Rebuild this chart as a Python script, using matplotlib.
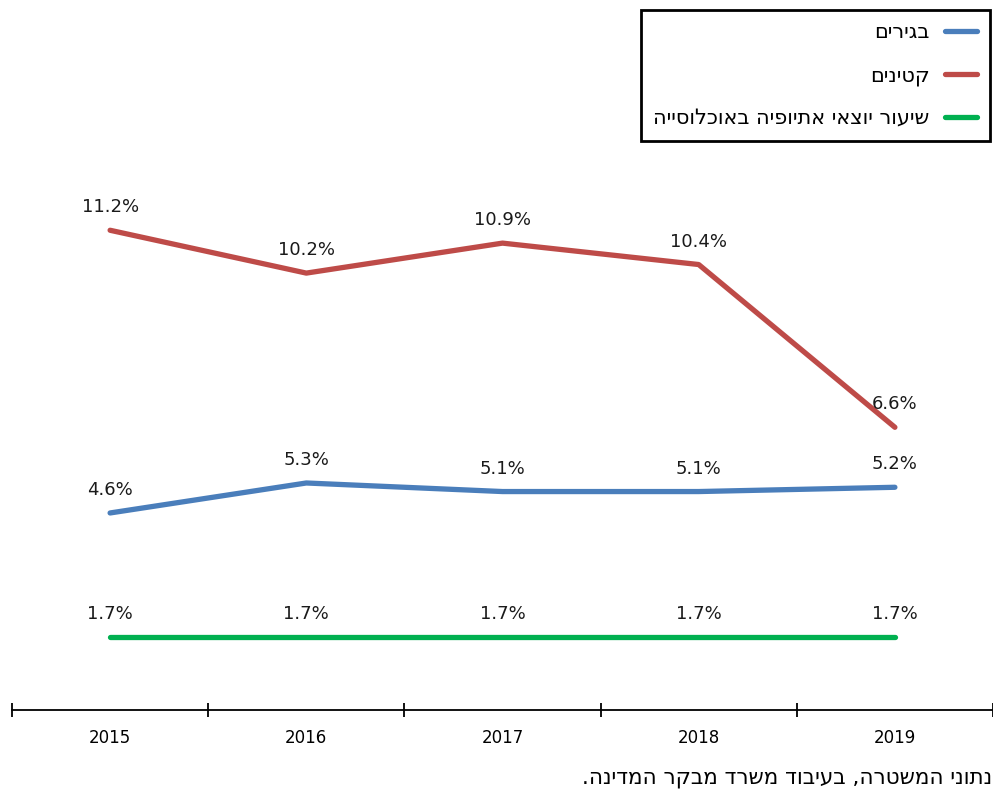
import numpy as np
from matplotlib import pyplot as plt

# data
years = ['2015', '2016', '2017', '2018', '2019']
adults = [4.6, 5.3, 5.1, 5.1, 5.2]
minors = [11.2, 10.2, 10.9, 10.4, 6.6]
ethiopian_share = [1.7, 1.7, 1.7, 1.7, 1.7]
series_labels = ['בגירים', 'קטינים', 'שיעור יוצאי אתיופיה באוכלוסייה']
source_text = 'נתוני המשטרה, בעיבוד משרד מבקר המדינה.'


def rtl(s):
    # matplotlib has no bidi support, so flip hebrew for display
    return s[::-1]


fig = plt.figure(figsize=(9.93, 7.92), dpi=100)
ax = fig.add_axes([12/993, 1 - 710/792, 981/993, (710 - 196)/792])

x = np.arange(len(years))
lines = []
for vals, col in [(adults, '#4A7EBB'), (minors, '#BE4B48'), (ethiopian_share, '#00B050')]:
    ln, = ax.plot(x, vals, color=col, lw=3.8, solid_capstyle='round', solid_joinstyle='round')
    lines.append(ln)
    for xi, v in zip(x, vals):
        ax.annotate('%.1f%%' % v, (xi, v), xytext=(0, 10), textcoords='offset points',
                    ha='center', va='bottom', fontsize=13, color='#1a1a1a')

ax.set_xlim(-0.5, 4.5)
ax.set_ylim(0, 12)
for s in ['top', 'left', 'right']:
    ax.spines[s].set_visible(False)
ax.spines['bottom'].set_linewidth(1.3)
ax.set_yticks([])
ax.set_xticks(np.arange(-0.5, 5, 1))
ax.set_xticks(x, minor=True)
ax.set_xticklabels([])
ax.set_xticklabels(years, minor=True)
ax.tick_params(axis='x', which='major', direction='inout', length=10, width=1.3)
ax.tick_params(axis='x', which='minor', length=0, pad=14, labelsize=12)

leg = fig.legend(lines, [rtl(l) for l in series_labels], loc='upper right',
                 bbox_to_anchor=(990/993, 1 - 10/792), bbox_transform=fig.transFigure,
                 markerfirst=False, fontsize=15, frameon=True, fancybox=False,
                 edgecolor='black', framealpha=1, handlelength=1.55, handletextpad=0.75,
                 labelspacing=1.08, borderpad=0.6, borderaxespad=0)
leg.get_frame().set_linewidth(2)

fig.text(992/993, 1 - 778/792, rtl(source_text), ha='right', va='center', fontsize=15.5)

fig.savefig('out.png', dpi=100)
